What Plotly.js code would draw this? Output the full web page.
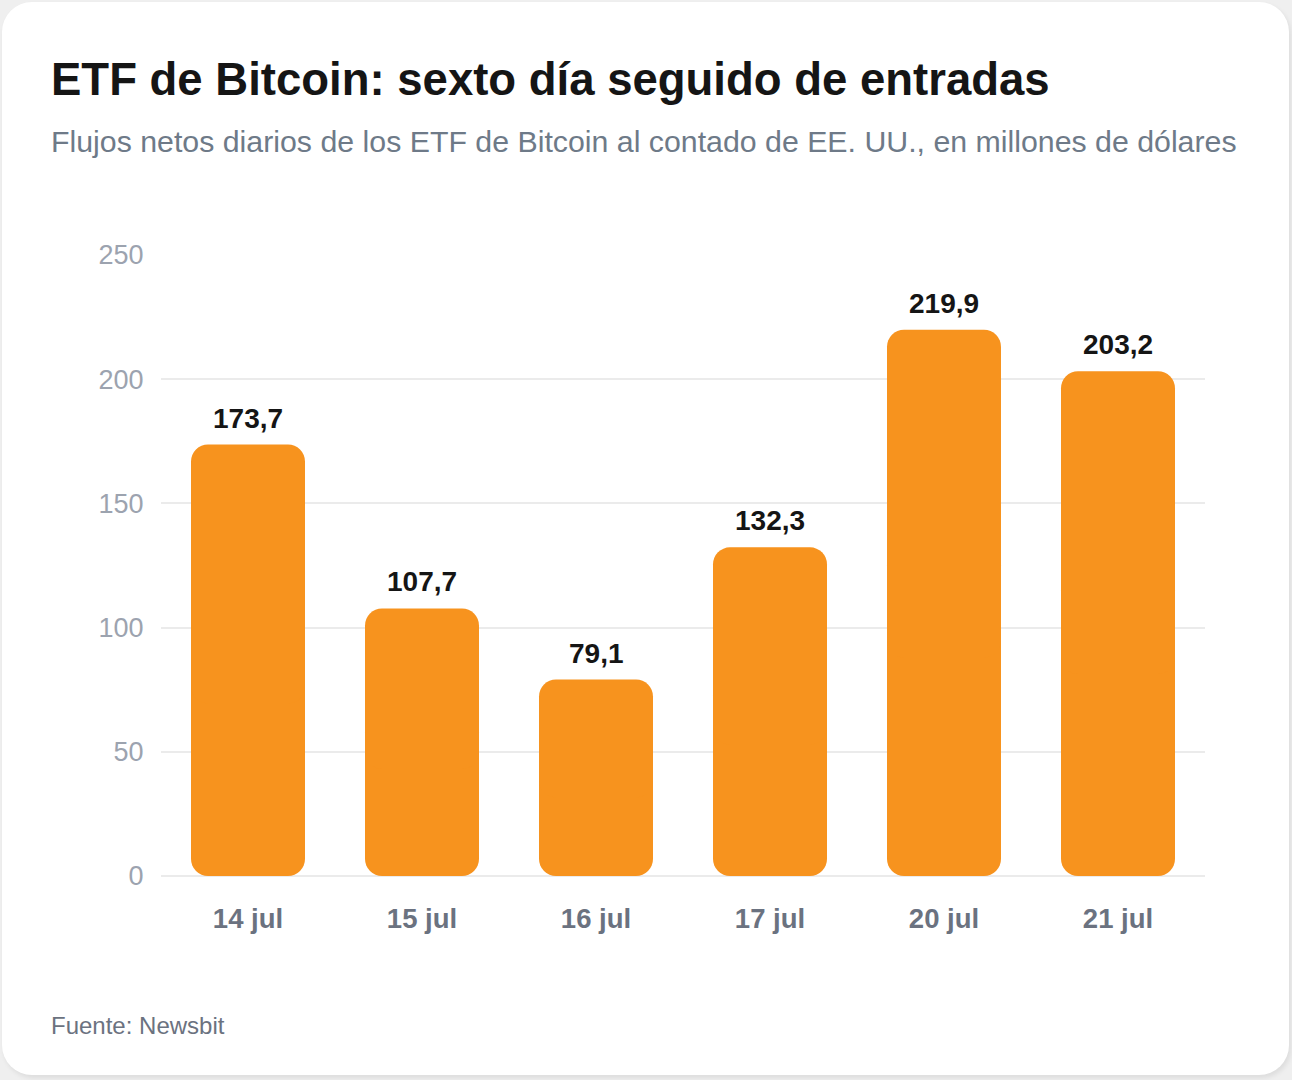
<!DOCTYPE html>
<html>
<head>
<meta charset="utf-8">
<script src="https://cdn.plot.ly/plotly-3.0.1.min.js"></script>
<style>
  html, body { margin: 0; padding: 0; }
  body { width: 1292px; height: 1080px; background: #efefef; position: relative; overflow: hidden; }
  #card { position: absolute; left: 2px; top: 2px; width: 1287px; height: 1073px; background: #ffffff;
          border-radius: 30px; box-shadow: 2px 3px 5px rgba(0,0,0,0.08); }
  #chart { position: absolute; left: 0; top: 0; width: 1292px; height: 1080px; }
</style>
</head>
<body>
<div id="card"></div>
<div id="chart"></div>
<script>
const categories = ["14 jul", "15 jul", "16 jul", "17 jul", "20 jul", "21 jul"];
const flows = [173.7, 107.7, 79.1, 132.3, 219.9, 203.2];
const yTicks = [0, 50, 100, 150, 200, 250];

const titleText = "ETF de Bitcoin: sexto día seguido de entradas";
const subtitleText = "Flujos netos diarios de los ETF de Bitcoin al contado de EE. UU., en millones de dólares";
const sourceText = "Fuente: Newsbit";

const orange = "#F7931E";
const fontFam = "'Liberation Sans', Arial, sans-serif";

const labels = flows.map(v => v.toFixed(1).replace(".", ","));

// Two halves of each bar so that both ends get rounded corners
const lowerTrace = {
  type: "bar", x: categories,
  base: flows.map(v => v * 0.6), y: flows.map(v => -v * 0.6),
  marker: { color: orange, cornerradius: 17, line: { width: 0 } },
  hoverinfo: "skip", showlegend: false
};
const upperTrace = {
  type: "bar", x: categories,
  base: flows.map(v => v * 0.4), y: flows.map(v => v * 0.6),
  marker: { color: orange, cornerradius: 17, line: { width: 0 } },
  hoverinfo: "skip", showlegend: false
};

const L = 161, R = 1205, T = 255, B = 876;
const px2x = p => (p - L) / (R - L);
const px2y = p => (B - p) / (B - T);

const annotations = [
  { xref: "paper", yref: "paper", x: px2x(49), y: px2y(79), xanchor: "left", yanchor: "middle",
    text: "<b>" + titleText + "</b>", showarrow: false,
    font: { family: fontFam, size: 45.5, color: "#151515" } },
  { xref: "paper", yref: "paper", x: px2x(49), y: px2y(141), xanchor: "left", yanchor: "middle",
    text: subtitleText, showarrow: false,
    font: { family: fontFam, size: 30.3, color: "#6e7a88" } },
  { xref: "paper", yref: "paper", x: px2x(49), y: px2y(1025), xanchor: "left", yanchor: "middle",
    text: sourceText, showarrow: false,
    font: { family: fontFam, size: 24, color: "#6b7280" } }
];
categories.forEach((c, i) => {
  annotations.push({
    x: c, y: flows[i], xref: "x", yref: "y", yanchor: "bottom", yshift: 9,
    text: "<b>" + labels[i] + "</b>", showarrow: false,
    font: { family: fontFam, size: 28, color: "#151515" }
  });
});

const layout = {
  width: 1292, height: 1080,
  margin: { l: L, r: 1292 - R, t: T, b: 1080 - B },
  paper_bgcolor: "rgba(0,0,0,0)", plot_bgcolor: "rgba(0,0,0,0)",
  barmode: "overlay", bargap: 60 / 174,
  font: { family: fontFam },
  xaxis: {
    type: "category", showgrid: false, zeroline: false, showline: false,
    ticks: "outside", ticklen: 18, tickcolor: "rgba(0,0,0,0)",
    tickfont: { family: fontFam, size: 27.5, color: "#6b7280", weight: "bold" },
    fixedrange: true
  },
  yaxis: {
    range: [0, 250], tickvals: yTicks, ticktext: yTicks.map(String),
    showgrid: true, gridcolor: "#ebebeb", gridwidth: 2,
    zeroline: true, zerolinecolor: "#ebebeb", zerolinewidth: 2, showline: false,
    ticks: "outside", ticklen: 11, tickcolor: "rgba(0,0,0,0)",
    tickfont: { family: fontFam, size: 27, color: "#9ca3af" },
    fixedrange: true
  },
  annotations: annotations,
  showlegend: false
};

Plotly.newPlot("chart", [lowerTrace, upperTrace], layout, { displayModeBar: false, staticPlot: true });
</script>
</body>
</html>
